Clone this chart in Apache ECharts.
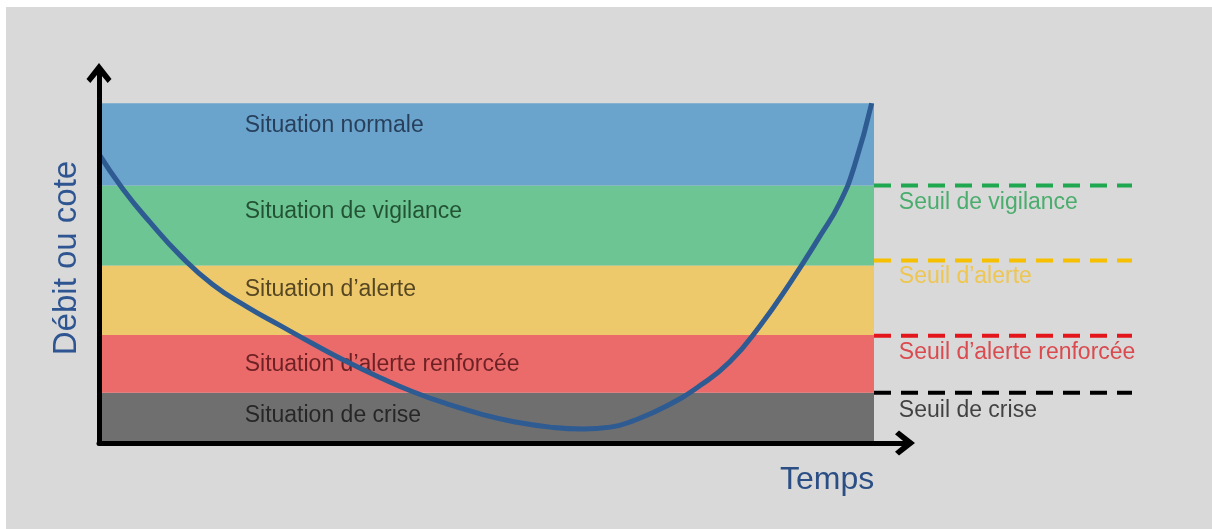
<!DOCTYPE html>
<html>
<head>
<meta charset="utf-8">
<script src="https://cdn.jsdelivr.net/npm/echarts@6/dist/echarts.min.js"></script>
<style>
  html, body { margin: 0; padding: 0; background: #ffffff; }
  #chart { position: absolute; left: 6px; top: 7px; width: 1206px; height: 522px; }
</style>
</head>
<body>
<div id="chart"></div>
<script>
// ---- Data ----
// Time axis: 0..100 covers the situation bands; level axis 0..100 (arbitrary units)
const bandNames = ['Situation de crise', "Situation d’alerte renforcée", "Situation d’alerte", 'Situation de vigilance', 'Situation normale'];
const bandLower = [0, 13.6, 29.3, 48.1, 69.8];
const bandUpper = [13.6, 29.3, 48.1, 69.8, 92.1];
const bandColors = ['#6f6f6f', '#eb6b6b', '#eec96c', '#6cc592', '#6aa3cb'];
const bandTextColors = ['#141414', '#4f0f13', '#30250f', '#10341c', '#16253f'];
const bandLabelX = 18.8;
const bandLabelY = [7.4, 21.2, 41.6, 62.8, 85.9];

const seuilNames = ['Seuil de crise', "Seuil d’alerte renforcée", "Seuil d’alerte", 'Seuil de vigilance'];
const seuilLevels = [13.6, 29.1, 49.5, 69.8];
const seuilColors = ['#000000', '#e3161b', '#f6c000', '#1fa84f'];
const seuilTextColors = ['#1a1a1a', '#d9262a', '#f2c12e', '#27a151'];
const seuilStartX = 100;
const seuilEndX = 133.2;
const seuilLabelX = 103.2;
const seuilLabelY = [8.8, 24.5, 45.1, 65.2];

const curveTime  = [0, 3.1, 6.6, 10.5, 14.7, 19.1, 23.4, 27.6, 32.0, 36.3, 40.5, 44.9, 49.2, 53.7, 58.2, 62.5, 66.0, 68.9, 73.3, 77.5, 81.4, 85.3, 89.2, 93.0, 95.6, 97.5, 99.7];
const curveLevel = [78.3, 68.8, 59.8, 50.8, 42.9, 36.9, 31.8, 26.9, 22.0, 17.7, 13.9, 10.6, 7.9, 5.7, 4.3, 3.8, 4.3, 6.0, 10.1, 15.5, 22.0, 31.8, 43.5, 56.0, 65.2, 75.3, 92.1];

const xAxisName = 'Temps';
const yAxisName = 'Débit ou cote';

// ---- Chart ----
const FONT = "'Liberation Sans', Arial, sans-serif";
const chevron = 'path://M12.5,0 L25,16 L21.2,20 L12.5,9.5 L3.8,20 L0,16 Z';

const chart = echarts.init(document.getElementById('chart'), null, { renderer: 'canvas' });

const series = [];

// Bands
series.push({
  name: 'bands',
  type: 'line',
  data: [],
  z: 1,
  silent: true,
  markArea: {
    silent: true,
    label: { show: false },
    data: bandNames.map((n, i) => [
      { xAxis: 0, yAxis: bandLower[i], itemStyle: { color: bandColors[i], opacity: 1 } },
      { xAxis: 100, yAxis: bandUpper[i] }
    ])
  }
});

// Band labels
series.push({
  name: 'bandLabels',
  type: 'scatter',
  z: 3,
  symbolSize: 0,
  silent: true,
  data: bandNames.map((n, i) => ({
    value: [bandLabelX, bandLabelY[i]],
    name: n,
    label: { color: bandTextColors[i] }
  })),
  label: {
    show: true,
    position: 'right',
    distance: 0,
    formatter: p => p.name,
    fontFamily: FONT,
    fontSize: 23
  }
});

// Threshold dashed lines (second grid, to the right of the bands)
seuilNames.forEach((n, i) => {
  series.push({
    name: n,
    type: 'line',
    xAxisIndex: 1,
    yAxisIndex: 1,
    symbol: 'none',
    silent: true,
    z: 2,
    data: [[seuilStartX, seuilLevels[i]], [seuilEndX, seuilLevels[i]]],
    lineStyle: { color: seuilColors[i], width: 4, type: [17, 10] }
  });
});

// Threshold labels
series.push({
  name: 'seuilLabels',
  type: 'scatter',
  xAxisIndex: 1,
  yAxisIndex: 1,
  symbolSize: 0,
  silent: true,
  z: 3,
  data: seuilNames.map((n, i) => ({
    value: [seuilLabelX, seuilLabelY[i]],
    name: n,
    label: { color: seuilTextColors[i] }
  })),
  label: {
    show: true,
    position: 'right',
    distance: 0,
    formatter: p => p.name,
    fontFamily: FONT,
    fontSize: 23
  }
});

// Curve
series.push({
  name: 'curve',
  type: 'line',
  smooth: 0.5,
  symbol: 'none',
  z: 5,
  data: curveTime.map((t, i) => [t, curveLevel[i]]),
  lineStyle: { color: '#2f5b93', width: 5 }
});

const hiddenAxis = {
  axisLine: { show: false }, axisTick: { show: false }, axisLabel: { show: false }, splitLine: { show: false }
};

chart.setOption({
  backgroundColor: '#d9d9d9',
  animation: false,
  grid: [
    { left: 93, right: 307, top: 66, bottom: 86, containLabel: false },
    { left: 868, right: 80, top: 66, bottom: 86, containLabel: false }
  ],
  xAxis: [{
    type: 'value', min: 0, max: 104, z: 10, gridIndex: 0,
    axisLine: { show: true, onZero: true, lineStyle: { color: '#000', width: 5 }, symbol: ['none', chevron], symbolSize: [25, 23] },
    axisTick: { show: false }, axisLabel: { show: false }, splitLine: { show: false }
  }, Object.assign({ type: 'value', min: seuilStartX, max: seuilEndX, gridIndex: 1 }, hiddenAxis)],
  yAxis: [{
    type: 'value', min: 0, max: 100.3, z: 10, gridIndex: 0,
    axisLine: { show: true, onZero: true, lineStyle: { color: '#000', width: 5 }, symbol: ['none', chevron], symbolSize: [25, 23] },
    axisTick: { show: false }, axisLabel: { show: false }, splitLine: { show: false },
    name: yAxisName, nameLocation: 'middle', nameRotate: 90, nameGap: 16,
    nameTextStyle: { fontFamily: FONT, fontSize: 33, color: '#2e5591' }
  }, Object.assign({ type: 'value', min: 0, max: 100.3, gridIndex: 1 }, hiddenAxis)],
  graphic: [{
    type: 'text',
    left: 774,
    top: 457,
    silent: true,
    style: { text: xAxisName, fontFamily: FONT, fontSize: 32, fill: '#2b4f85' }
  }],
  series: series
});
</script>
</body>
</html>
